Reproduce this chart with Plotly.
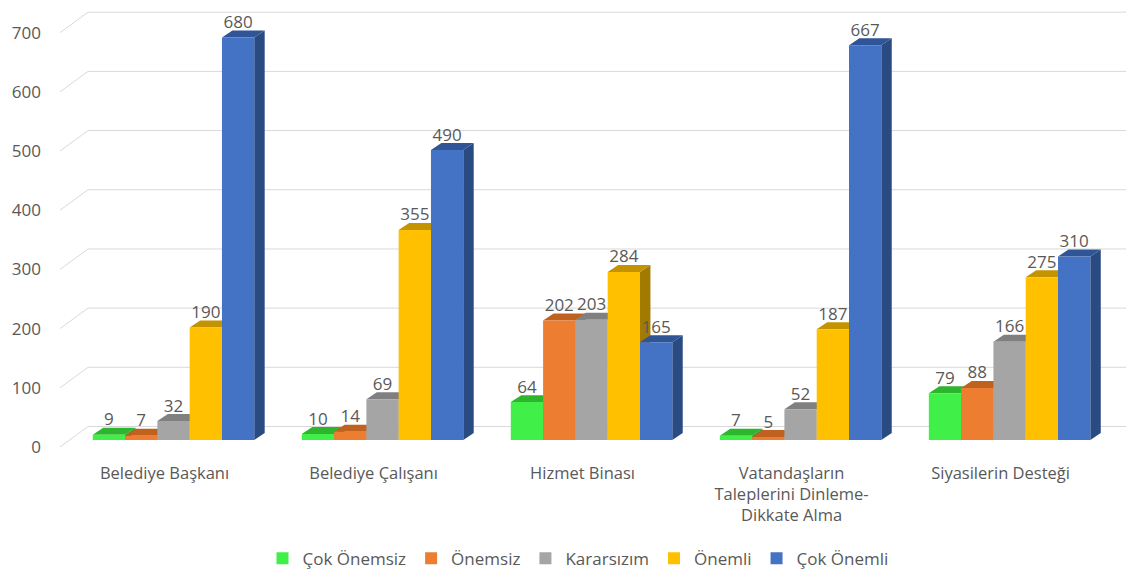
import plotly.graph_objects as go

categories = ["Belediye Başkanı", "Belediye Çalışanı", "Hizmet Binası",
              "Vatandaşların<br>Taleplerini Dinleme-<br>Dikkate Alma", "Siyasilerin Desteği"]
series_names = ["Çok Önemsiz", "Önemsiz", "Kararsızım", "Önemli", "Çok Önemli"]
cok_onemsiz = [9, 10, 64, 7, 79]
onemsiz = [7, 14, 202, 5, 88]
kararsizim = [32, 69, 203, 52, 166]
onemli = [190, 355, 284, 187, 275]
cok_onemli = [680, 490, 165, 667, 310]
y_ticks = [0, 100, 200, 300, 400, 500, 600, 700]

series_values = [cok_onemsiz, onemsiz, kararsizim, onemli, cok_onemli]
front_colors = ["#40F048", "#ED7D31", "#A5A5A5", "#FFC000", "#4472C4"]
top_colors = ["#2EB52E", "#C0621F", "#808080", "#C49300", "#2F5597"]
side_colors = ["#279A27", "#A8561B", "#6E6E6E", "#A27A00", "#2A4B82"]

# geometry (data units)
W = 0.1545          # bar width
DX = 0.050          # depth offset in x
DY = 11.8           # depth offset in y
BACK = 22.8         # back-wall gridline offset
FRONT = -11.8       # front floor level offset
X_RANGE = [-0.5909, 4.557]
Y_RANGE = [-16.9, 726.5]
FONT = "Open Sans"
TXT = "#595959"

fig = go.Figure()
shapes = []

# back wall gridlines with diagonal floor/side edges
for v in y_ticks:
    shapes.append(dict(type="line", xref="x", yref="y", layer="below",
                       x0=-0.543, y0=v + FRONT, x1=-0.409, y1=v + BACK,
                       line=dict(color="#D9D9D9", width=1)))
    shapes.append(dict(type="line", xref="x", yref="y", layer="below",
                       x0=-0.409, y0=v + BACK, x1=X_RANGE[1], y1=v + BACK,
                       line=dict(color="#D9D9D9", width=1)))

for s, (name, vals) in enumerate(zip(series_names, series_values)):
    xs = [i + (s - 2) * W for i in range(len(categories))]
    fig.add_trace(go.Bar(x=xs, y=vals, width=W, name=name,
                         marker=dict(color=front_colors[s], line=dict(width=0)),
                         hovertemplate=name + ": %{y}<extra></extra>"))

for i in range(len(categories)):
    for s in range(len(series_names)):
        h = series_values[s][i]
        xc = i + (s - 2) * W
        x0, x1 = xc - W / 2, xc + W / 2
        top = (f"M {x0},{h} L {x1},{h} L {x1 + DX},{h + DY} "
               f"L {x0 + DX},{h + DY} Z")
        side = (f"M {x1},0 L {x1},{h} L {x1 + DX},{h + DY} "
                f"L {x1 + DX},{DY} Z")
        shapes.append(dict(type="path", path=side, xref="x", yref="y", layer="below",
                           fillcolor=side_colors[s], line=dict(width=0)))
        shapes.append(dict(type="path", path=top, xref="x", yref="y", layer="below",
                           fillcolor=top_colors[s], line=dict(width=0)))

# value labels
for s, vals in enumerate(series_values):
    xs = [i + (s - 2) * W for i in range(len(categories))]
    fig.add_trace(go.Scatter(x=xs, y=[v + DY - 3 for v in vals], mode="text",
                             text=[str(v) for v in vals], textposition="top center",
                             textfont=dict(family=FONT, size=17, color=TXT),
                             showlegend=False, hoverinfo="skip", cliponaxis=False))

fig.update_layout(
    width=1126, height=572,
    margin=dict(l=50, r=0, t=10, b=122, autoexpand=False),
    paper_bgcolor="white", plot_bgcolor="white",
    font=dict(family=FONT, size=17, color=TXT),
    shapes=shapes,
    barmode="overlay",
    showlegend=True,
    legend=dict(orientation="h", x=0.4907, xanchor="center", y=-0.247, yanchor="middle",
                font=dict(family=FONT, size=17, color=TXT), itemwidth=30,
                traceorder="normal"),
    xaxis=dict(range=X_RANGE, tickvals=list(range(len(categories))), ticktext=categories,
               showgrid=False, zeroline=False, showline=False, ticks="", automargin=False,
               tickfont=dict(family=FONT, size=16.5, color=TXT),
               ticklabelshift=-9, ticklabelstandoff=11),
    yaxis=dict(range=Y_RANGE, tickvals=y_ticks, showgrid=False, zeroline=False,
               showline=False, ticks="", automargin=False,
               tickfont=dict(family=FONT, size=17, color=TXT),
               ticklabelshift=7, ticklabelstandoff=8),
)

fig.write_html("out.html")
